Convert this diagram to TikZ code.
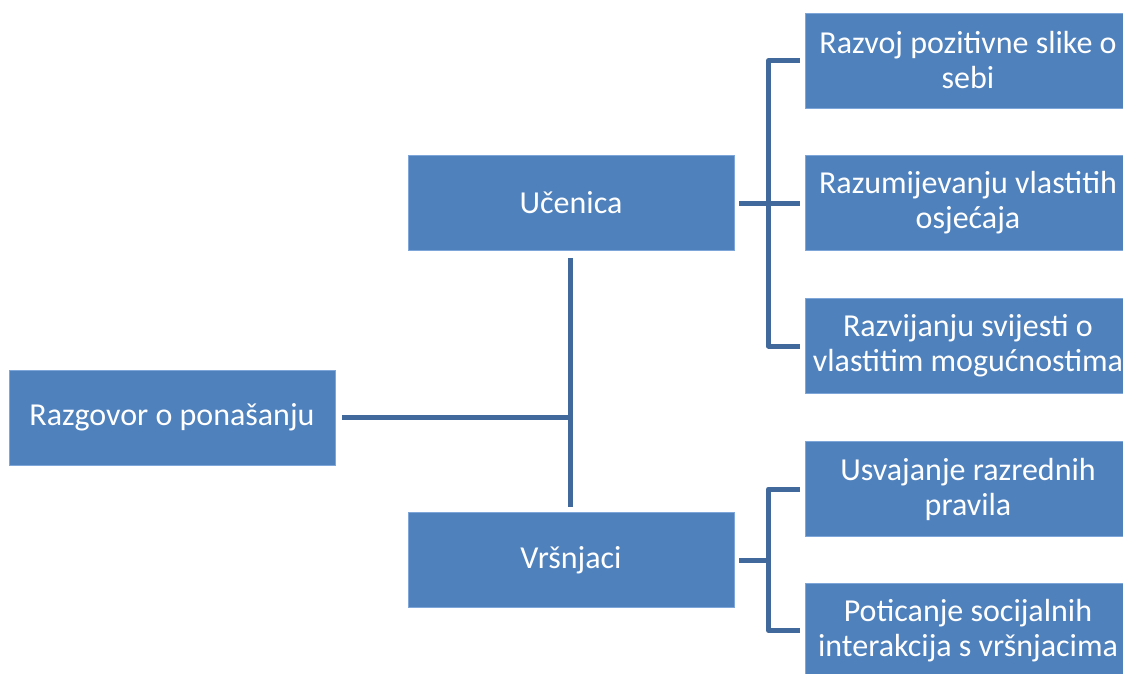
\documentclass[tikz,border=0pt]{standalone}
\usepackage{fontspec}
\setmainfont{Carlito}
\definecolor{boxfill}{HTML}{4F81BD}
\definecolor{boxedge}{HTML}{7EA6D8}
\definecolor{linec}{HTML}{41699C}
\begin{document}
\begin{tikzpicture}[x=1pt,y=-1pt,
  box/.style={rectangle, fill=boxfill, draw=boxedge, line width=0.8pt,
    minimum width=326pt, minimum height=95pt, inner sep=0pt,
    text=white, align=center,
    font=\fontsize{32}{35}\selectfont},
  conn/.style={draw=linec, line width=5pt, line join=round}]
\useasboundingbox (0,0) rectangle (1123,673);
\node[box] (root) at (172,417.5) {Razgovor o ponašanju};
\node[box] (u) at (571,203) {Učenica};
\node[box] (v) at (571,560) {Vršnjaci};
\node[box] (r1) at (968,60.5) {Razvoj pozitivne slike o\\sebi};
\node[box] (r2) at (968,203) {Razumijevanju vlastitih\\osjećaja};
\node[box] (r3) at (968,346) {Razvijanju svijesti o\\vlastitim mogućnostima};
\node[box] (r4) at (968,489) {Usvajanje razrednih\\pravila};
\node[box] (r5) at (968,630.5) {Poticanje socijalnih\\interakcija s vršnjacima};
\coordinate (t) at (570,417.5);
\draw[conn] ([yshift=-7pt]u.south -| t) -- ([yshift=5pt]v.north -| t);
\draw[conn] ([xshift=7pt]root.east) -- (t);
\draw[conn] ([xshift=-5pt]r1.west) -- ([xshift=-36pt]r1.west) -- ([xshift=-36pt]r3.west) -- ([xshift=-5pt]r3.west);
\draw[conn] ([xshift=5pt]u.east) -- ([xshift=-5pt]r2.west);
\draw[conn] ([xshift=-5pt]r4.west) -- ([xshift=-36pt]r4.west) -- ([xshift=-36pt]r5.west) -- ([xshift=-5pt]r5.west);
\draw[conn] ([xshift=5pt]v.east) -- ([xshift=-36pt]v.east -| r5.west);
\end{tikzpicture}
\end{document}
